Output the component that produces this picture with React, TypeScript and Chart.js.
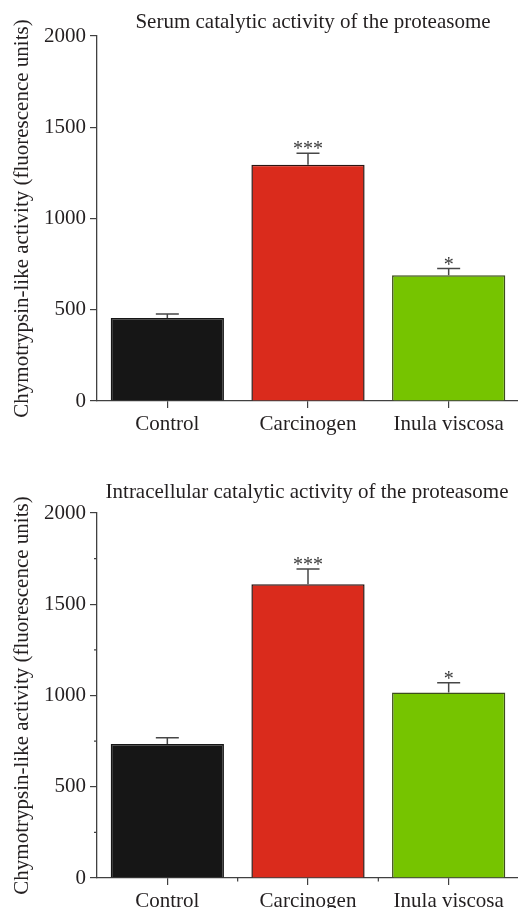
import React, { useEffect, useRef } from 'react';
import { Chart, registerables } from 'chart.js';

Chart.register(...registerables);

const categories = ['Control', 'Carcinogen', 'Inula viscosa'];
const serumValues = [455, 1294, 689];
const serumErrors = [22, 64, 37];
const intraValues = [734, 1609, 1017];
const intraErrors = [35, 84, 53];
const significance = ['', '***', '*'];
const yMax = 2000;
const yStep = 500;
const serumTitle = 'Serum catalytic activity of the proteasome';
const intraTitle = 'Intracellular catalytic activity of the proteasome';
const yAxisTitle = 'Chymotrypsin-like activity (fluorescence units)';

const barColors = ['#161616', '#DA2B1C', '#76C400'];
const barBorders = ['#161616', '#2B1512', '#3D4E1C'];
const FONT = '"Liberation Serif", "Times New Roman", serif';
const TEXT = '#231f20';
const AXIS = '#404040';

const annotPlugin = {
  id: 'annot',
  afterDatasetsDraw(chart: any, _args: any, opts: any) {
    const ctx = chart.ctx;
    const meta = chart.getDatasetMeta(0);
    const y = chart.scales.y;
    const x = chart.scales.x;
    const area = chart.chartArea;
    const data = chart.data.datasets[0].data as number[];
    ctx.save();
    meta.data.forEach((bar: any, i: number) => {
      const top = y.getPixelForValue(data[i] + opts.errors[i]);
      ctx.strokeStyle = '#474747';
      ctx.lineWidth = 1.5;
      ctx.beginPath();
      ctx.moveTo(bar.x, bar.y);
      ctx.lineTo(bar.x, top);
      ctx.moveTo(bar.x - 11.5, top);
      ctx.lineTo(bar.x + 11.5, top);
      ctx.stroke();
      if (opts.stars[i]) {
        ctx.fillStyle = '#3a3a3a';
        ctx.font = '20px ' + FONT;
        ctx.textAlign = 'center';
        ctx.textBaseline = 'alphabetic';
        ctx.fillText(opts.stars[i], bar.x, top + 2);
      }
    });
    // title centered on plot area
    ctx.font = '21px ' + FONT;
    ctx.fillStyle = TEXT;
    ctx.textAlign = 'center';
    ctx.textBaseline = 'middle';
    ctx.fillText(opts.title, (area.left + area.right) / 2 + opts.titleShift, area.top - opts.titleGap);
    if (opts.minor) {
      ctx.strokeStyle = AXIS;
      ctx.lineWidth = 1.2;
      ctx.beginPath();
      const t = y.ticks;
      for (let k = 0; k < t.length - 1; k++) {
        const py = y.getPixelForValue((t[k].value + t[k + 1].value) / 2);
        ctx.moveTo(area.left - 3, py);
        ctx.lineTo(area.left, py);
      }
      for (let k = 0; k < categories.length - 1; k++) {
        const px = (x.getPixelForValue(k) + x.getPixelForValue(k + 1)) / 2;
        ctx.moveTo(px, area.bottom);
        ctx.lineTo(px, area.bottom + 3.5);
      }
      ctx.stroke();
    }
    ctx.restore();
  },
};

function makeConfig(values: number[], errors: number[], title: string, titleGap: number, titleShift: number, minor: boolean): any {
  return {
    type: 'bar',
    data: {
      labels: categories,
      datasets: [
        {
          data: values,
          backgroundColor: barColors,
          borderColor: barBorders,
          borderWidth: 1.5,
          barPercentage: 0.805,
          categoryPercentage: 1,
        },
      ],
    },
    options: {
      responsive: false,
      animation: false,
      devicePixelRatio: 1,
      layout: { padding: { top: 36, right: 1, left: 0, bottom: 0 } },
      plugins: {
        legend: { display: false },
        tooltip: { enabled: false },
        title: { display: false },
        annot: { errors, stars: significance, title, titleGap, titleShift, minor },
      },
      scales: {
        x: {
          offset: true,
          grid: { offset: false, drawOnChartArea: false, tickLength: 7, color: AXIS, lineWidth: 1.2 },
          border: { color: AXIS, width: 1.3 },
          ticks: { color: TEXT, font: { family: FONT, size: 21 }, padding: 4, maxRotation: 0 },
          afterFit: (s: any) => { s.height = 49; },
        },
        y: {
          min: 0,
          max: yMax,
          ticks: {
            stepSize: yStep,
            color: TEXT,
            font: { family: FONT, size: 21 },
            padding: 4,
            callback: (v: any) => String(v),
          },
          grid: { drawOnChartArea: false, tickLength: 7, color: AXIS, lineWidth: 1.2 },
          border: { color: AXIS, width: 1.3 },
          title: {
            display: true,
            text: yAxisTitle,
            color: TEXT,
            font: { family: FONT, size: 21 },
            padding: { top: 10, bottom: 0 },
          },
          afterFit: (s: any) => { s.width = 97; },
        },
      },
    },
    plugins: [annotPlugin],
  };
}

function BarChart(props: { config: any; top: number }) {
  const ref = useRef<HTMLCanvasElement | null>(null);
  useEffect(() => {
    if (!ref.current) return;
    const chart = new Chart(ref.current, props.config);
    return () => chart.destroy();
  }, []);
  return (
    <canvas
      ref={ref}
      width={520}
      height={450}
      style={{ position: 'absolute', left: 0, top: props.top, width: 520, height: 450 }}
    />
  );
}

export default function App() {
  return (
    <div
      style={{
        position: 'fixed',
        left: 0,
        top: 0,
        width: 518,
        height: 908,
        overflow: 'hidden',
        background: '#fff',
      }}
    >
      <BarChart config={makeConfig(serumValues, serumErrors, serumTitle, 13.3, 5, false)} top={0} />
      <BarChart config={makeConfig(intraValues, intraErrors, intraTitle, 20.6, -1, true)} top={477} />
    </div>
  );
}
